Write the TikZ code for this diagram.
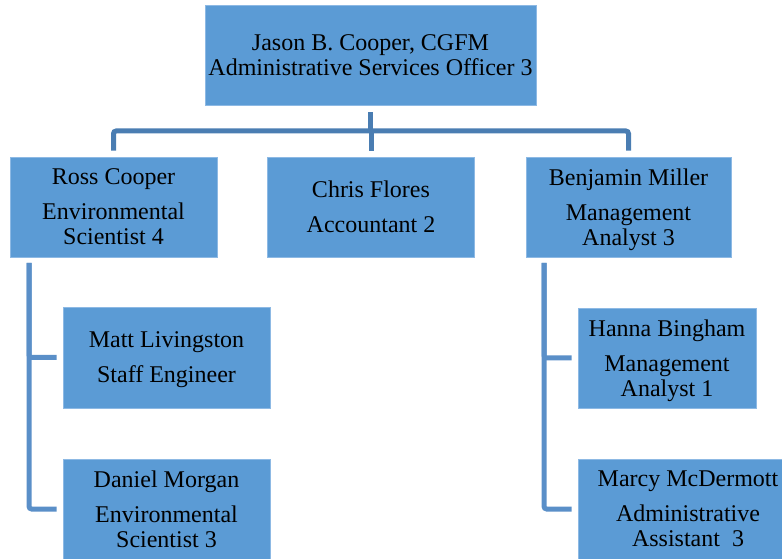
\documentclass[tikz,border=0pt]{standalone}
\usepackage{fontspec}
\setmainfont{Liberation Serif}
\definecolor{boxblue}{HTML}{5B9BD5}
\definecolor{boxedge}{HTML}{8DB9E4}
\definecolor{linkdark}{HTML}{4A7DB2}
\definecolor{linklight}{HTML}{5A8FC8}
\begin{document}
\begin{tikzpicture}[
  x=0.75pt, y=-0.75pt,
  person/.style={rectangle, draw=boxedge, line width=0.4pt, fill=boxblue, inner sep=0pt, text depth=0pt, font=\fontsize{18}{18.75}\selectfont, align=center},
  link/.style={line width=3.75pt, draw=linkdark, rounded corners=2pt},
  branch/.style={line width=3.75pt, draw=linklight, rounded corners=2pt}
]
\useasboundingbox (0,0) rectangle (782,559);

\node[person, minimum width=331*0.75pt, minimum height=100*0.75pt] (boss) at (370.5,55) {Jason B. Cooper, CGFM\\Administrative Services Officer 3};

\node[person, minimum width=207*0.75pt, minimum height=100*0.75pt] (ross) at (113.5,207) {Ross Cooper\\[7.5pt]Environmental\\Scientist 4};
\node[person, minimum width=207*0.75pt, minimum height=100*0.75pt] (chris) at (371,207) {Chris Flores\\[7.5pt]Accountant 2};
\node[person, minimum width=205*0.75pt, minimum height=100*0.75pt] (ben) at (628.5,207) {Benjamin Miller\\[7.5pt]Management\\Analyst 3};

\node[person, minimum width=207*0.75pt, minimum height=101*0.75pt] (matt) at (166.5,357.5) {Matt Livingston\\[7.5pt]Staff Engineer};
\node[person, minimum width=207*0.75pt, minimum height=100*0.75pt] (daniel) at (166.5,509) {Daniel Morgan\\[7.5pt]Environmental\\Scientist 3};

\node[person, minimum width=178*0.75pt, minimum height=100*0.75pt] (hanna) at (667,358) {Hanna Bingham\\[7.5pt]Management\\Analyst 1};
\node[person, minimum width=220*0.75pt, minimum height=100*0.75pt] (marcy) at (688,509) {Marcy McDermott\\[7.5pt]Administrative\\Assistant\ \ 3};

% top level
\coordinate (bus) at (371,131);
\draw[link, shorten <=5.25pt] (boss.south) -- (boss.south |- bus);
\draw[link, shorten <=4.5pt, shorten >=4.5pt] (ross.north) |- (bus) -| (ben.north);
\draw[link, shorten >=4.5pt] (bus) -- (chris.north);

% left branch
\coordinate (lspine) at (29,263);
\draw[branch] (lspine) |- ([xshift=-4.5pt]matt.west);
\draw[branch] (lspine) |- ([xshift=-4.5pt]daniel.west);

% right branch
\coordinate (rspine) at (544,263);
\draw[branch] (rspine) |- ([xshift=-4.5pt]hanna.west);
\draw[branch] (rspine) |- ([xshift=-4.5pt]marcy.west);
\end{tikzpicture}
\end{document}
